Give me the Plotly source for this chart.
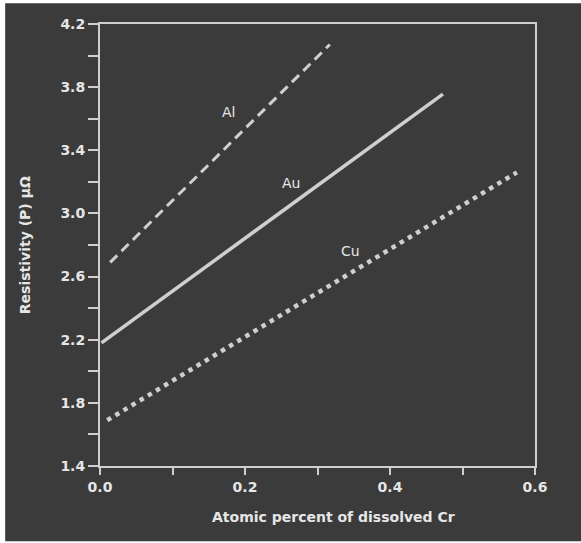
import plotly.graph_objects as go

# Data
al_x = [0.014, 0.317]
al_y = [2.69, 4.07]
au_x = [0.002, 0.473]
au_y = [2.18, 3.756]
cu_x = [0.010, 0.575]
cu_y = [1.69, 3.26]

labels = ["Al", "Au", "Cu"]
label_x = [0.177, 0.263, 0.346]
label_y = [3.64, 3.19, 2.76]

x_title = "Atomic percent of dissolved Cr"
y_title = "Resistivity (P) µΩ"

BG = "#3b3b3b"
FG = "#e6e6e6"
LINE = "#cfcfcf"
FAM = "DejaVu Sans, sans-serif"
TICKFONT = dict(family=FAM, size=14, color=FG, weight="bold")
TITLEFONT = dict(family=FAM, size=14, color=FG, weight="bold")

fig = go.Figure()
fig.add_trace(go.Scatter(x=al_x, y=al_y, mode="lines",
                         line=dict(color=LINE, width=3, dash="10px,6px"), showlegend=False))
fig.add_trace(go.Scatter(x=au_x, y=au_y, mode="lines",
                         line=dict(color=LINE, width=3.5), showlegend=False))
fig.add_trace(go.Scatter(x=cu_x, y=cu_y, mode="lines",
                         line=dict(color=LINE, width=4.5, dash="4.5px,5px"), showlegend=False))

for t, x, y in zip(labels, label_x, label_y):
    fig.add_annotation(x=x, y=y, text=t, showarrow=False,
                       font=dict(family=FAM, size=14, color=FG))

# dark background panel
fig.add_shape(type="rect", xref="paper", yref="paper", x0=-0.218, x1=1.11, y0=-0.17, y1=1.047,
              fillcolor=BG, line=dict(width=0), layer="below")

fig.add_annotation(xref="paper", yref="paper", x=0.536, y=-0.115, text=x_title, showarrow=False,
                   font=TITLEFONT, yanchor="middle")
fig.add_annotation(xref="paper", yref="paper", x=-0.172, y=0.5, text=y_title, showarrow=False,
                   font=TITLEFONT, textangle=-90, xanchor="center")

fig.update_xaxes(range=[0, 0.6], tick0=0, dtick=0.2, tickformat=".1f",
                 showgrid=False, zeroline=False, showline=True, mirror=True,
                 linecolor=LINE, linewidth=2, ticks="outside", ticklen=7, tickwidth=2,
                 tickcolor=LINE, tickfont=TICKFONT,
                 minor=dict(dtick=0.1, ticks="outside", ticklen=7, tickwidth=2, tickcolor=LINE,
                            showgrid=False))
fig.update_yaxes(range=[1.4, 4.2], tick0=1.4, dtick=0.4, tickformat=".1f",
                 showgrid=False, zeroline=False, showline=True, mirror=True,
                 linecolor=LINE, linewidth=2, ticks="outside", ticklen=10, tickwidth=2,
                 tickcolor=LINE, tickfont=TICKFONT,
                 minor=dict(dtick=0.2, ticks="outside", ticklen=10, tickwidth=2, tickcolor=LINE,
                            showgrid=False))

fig.update_layout(width=581, height=543, margin=dict(l=100, r=46, t=24, b=77),
                  paper_bgcolor="white", plot_bgcolor=BG)

fig.write_html("out.html")
